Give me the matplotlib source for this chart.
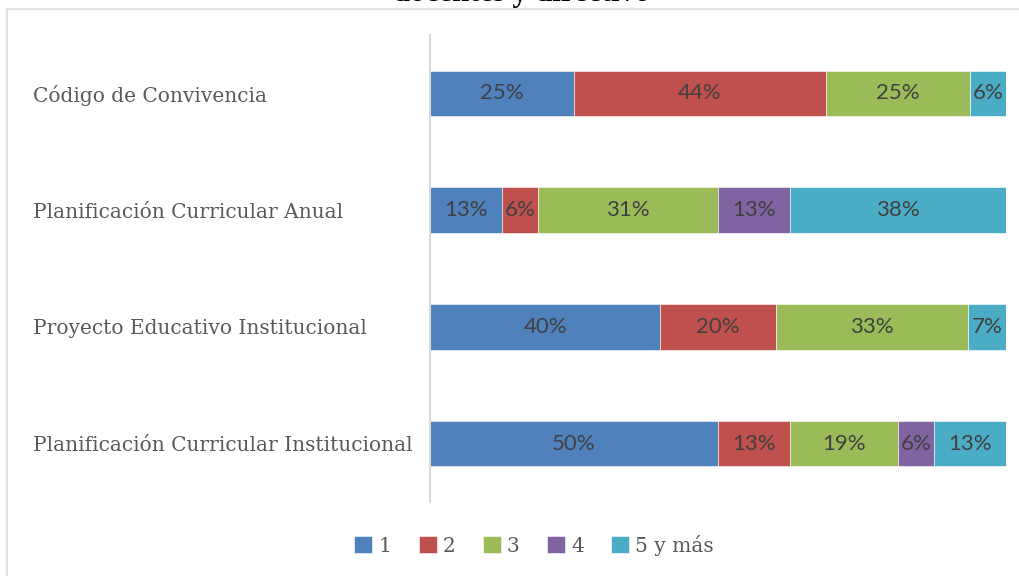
"""Stacked horizontal percentage bars: documents by number of respondents."""
import matplotlib
matplotlib.use("Agg")
import matplotlib.pyplot as plt
from matplotlib.patches import Rectangle

categories = [
    "Código de Convivencia",
    "Planificación Curricular Anual",
    "Proyecto Educativo Institucional",
    "Planificación Curricular Institucional",
]
series = ["1", "2", "3", "4", "5 y más"]
s1 = [25.0, 12.5, 40.0, 50.0]
s2 = [43.75, 6.25, 20.0, 12.5]
s3 = [25.0, 31.25, 33.33, 18.75]
s4 = [0.0, 12.5, 0.0, 6.25]
s5 = [6.25, 37.5, 6.67, 12.5]
colors = ["#4F81BD", "#C0504D", "#9BBB59", "#8064A2", "#4BACC6"]

fig = plt.figure(figsize=(10.2, 5.76), dpi=100)
ax = fig.add_axes([430 / 1020, 1 - 502 / 576, 576 / 1020, 467 / 576])

# light outer frame of the chart area, partly cut by the image edge
fig.patches.append(Rectangle((7 / 1020, -0.05), 1.2, 1 - 9 / 576 + 0.05,
                             transform=fig.transFigure, fill=False,
                             edgecolor="#E3E3E3", linewidth=1.5))
# title of the source figure, only its lower part is inside the image
fig.text(0.511, 1 - 1.5 / 576, "docentes y directivo", ha="center", va="baseline",
         family="Liberation Serif", fontweight="bold", fontsize=22, color="black")

ypos = list(range(len(categories)))
left = [0.0] * len(categories)
for name, vals, col in zip(series, [s1, s2, s3, s4, s5], colors):
    bars = ax.barh(ypos, vals, left=left, height=0.39, color=col, label=name,
                   edgecolor="white", linewidth=0.4)
    for b, v in zip(bars, vals):
        if v > 0:
            ax.text(b.get_x() + b.get_width() / 2, b.get_y() + b.get_height() / 2,
                    f"{int(v + 0.5)}%", ha="center", va="center",
                    fontsize=16, color="#404040", family="Lato")
    left = [l + v for l, v in zip(left, vals)]

ax.set_xlim(0, 100)
ax.set_ylim(len(categories) - 0.5, -0.5)
ax.set_yticks(ypos)
ax.set_yticklabels(categories, family="DejaVu Serif", fontsize=14.5,
                   color="#595959", ha="left")
ax.tick_params(axis="y", length=0, pad=397 * 0.72)
ax.set_xticks([])
for side in ["top", "right", "bottom"]:
    ax.spines[side].set_visible(False)
ax.spines["left"].set_color("#D9D9D9")
ax.spines["left"].set_linewidth(1.5)

handles, labels = ax.get_legend_handles_labels()
fig.legend(handles, labels, loc="center", bbox_to_anchor=(534 / 1020, 1 - 545 / 576),
           ncol=5, frameon=False, handlelength=0.9, handleheight=0.9,
           columnspacing=1.35, handletextpad=0.3,
           prop={"family": "DejaVu Serif", "size": 14.5}, labelcolor="#595959")

fig.savefig("out.png", dpi=100)
